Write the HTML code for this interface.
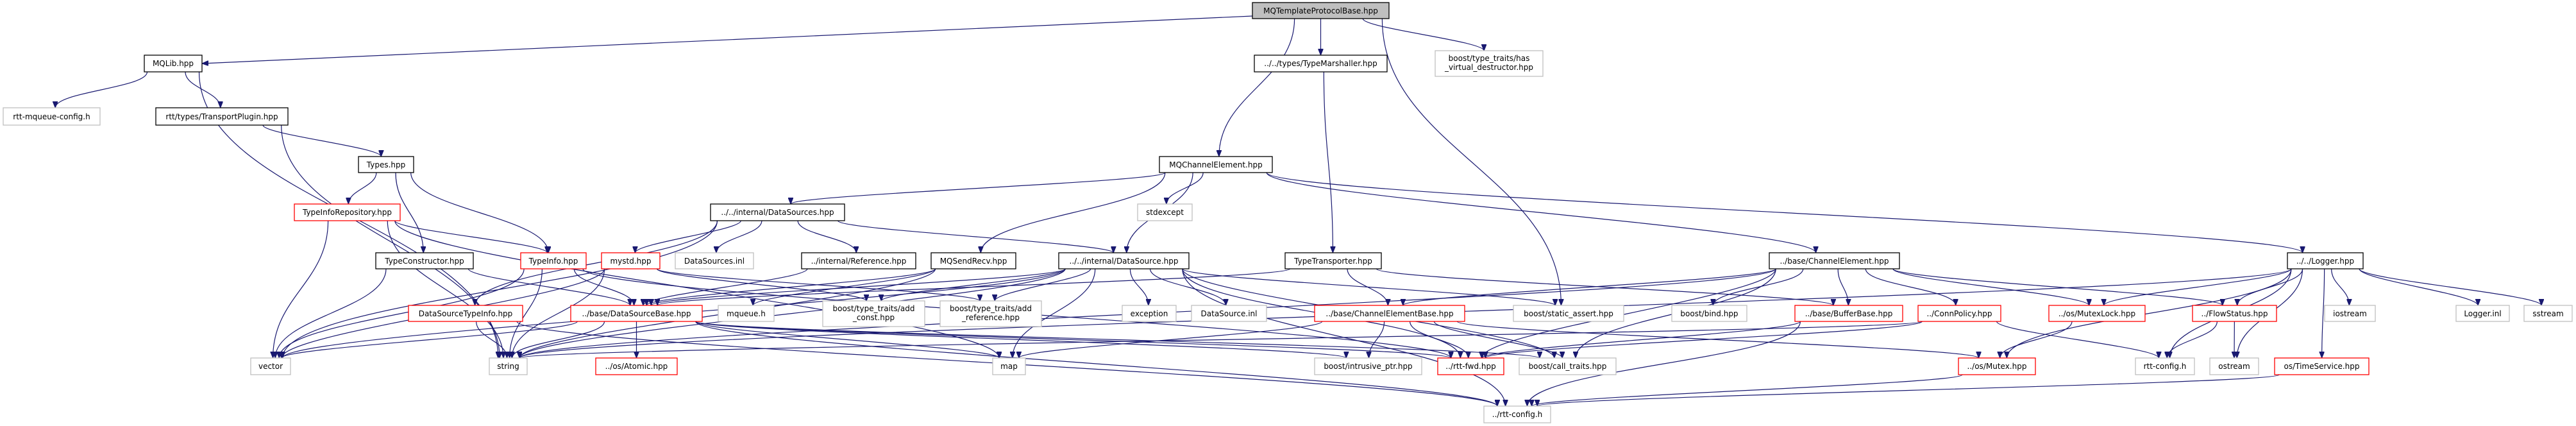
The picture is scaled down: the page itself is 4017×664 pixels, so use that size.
<!DOCTYPE html>
<html><head><meta charset="utf-8">
<style>
html,body{margin:0;padding:0;background:#fff;}
svg{display:block;}
text{font-family:"DejaVu Sans","Liberation Sans",sans-serif;font-size:12px;fill:#000;text-anchor:middle;}
.k{fill:#fff;stroke:#000;stroke-width:1.3}
.g{fill:#fff;stroke:#bfbfbf;stroke-width:1.3}
.r{fill:#fff;stroke:#ff0000;stroke-width:1.3}
.t{fill:#bfbfbf;stroke:#000;stroke-width:1.3}
.e{fill:none;stroke:#191970;stroke-width:1.2}
</style></head><body>
<svg id="s" width="4017" height="664" viewBox="0 0 4017 664" xmlns="http://www.w3.org/2000/svg">
<defs><marker id="a" markerUnits="userSpaceOnUse" markerWidth="11" markerHeight="8" refX="10" refY="4" orient="auto"><path d="M0,0 L10,4 L0,8 z" fill="#191970" stroke="#191970"/></marker></defs>
<g id="edges"></g>
<g id="nodes">
<rect id="T" class="t" x="1953" y="4" width="213" height="25"/><text x="2059.5" y="21">MQTemplateProtocolBase.hpp</text>
<rect id="MQLib" class="k" x="225" y="86" width="90" height="26"/><text x="270" y="103">MQLib.hpp</text>
<rect id="TM" class="k" x="1956" y="86" width="207" height="26"/><text x="2059.5" y="103">../../types/TypeMarshaller.hpp</text>
<rect id="HVD" class="g" x="2238" y="79" width="168" height="40"/><text x="2322" y="95">boost/type_traits/has</text><text x="2322" y="109">_virtual_destructor.hpp</text>
<rect id="RMC" class="g" x="5" y="168" width="151" height="27"/><text x="80.5" y="186">rtt-mqueue-config.h</text>
<rect id="TP" class="k" x="243" y="168" width="206" height="27"/><text x="346" y="186">rtt/types/TransportPlugin.hpp</text>
<rect id="Types" class="k" x="559" y="244" width="86" height="25"/><text x="602" y="261">Types.hpp</text>
<rect id="MQCE" class="k" x="1808" y="244" width="176" height="25"/><text x="1896" y="261">MQChannelElement.hpp</text>
<rect id="TIR" class="r" x="459" y="318" width="165" height="26"/><text x="541.5" y="335">TypeInfoRepository.hpp</text>
<rect id="DSS" class="k" x="1108" y="318" width="209" height="26"/><text x="1212.5" y="335">../../internal/DataSources.hpp</text>
<rect id="SE" class="g" x="1774" y="318" width="85" height="26"/><text x="1816.5" y="335">stdexcept</text>
<rect id="TC" class="k" x="586" y="394" width="152" height="25"/><text x="662" y="411">TypeConstructor.hpp</text>
<rect id="TI" class="r" x="812" y="394" width="102" height="25"/><text x="863" y="411">TypeInfo.hpp</text>
<rect id="MY" class="r" x="938" y="394" width="91" height="25"/><text x="983.5" y="411">mystd.hpp</text>
<rect id="DSI" class="g" x="1053" y="394" width="122" height="25"/><text x="1114" y="411">DataSources.inl</text>
<rect id="REF" class="k" x="1250" y="394" width="178" height="25"/><text x="1339" y="411">../internal/Reference.hpp</text>
<rect id="MSR" class="k" x="1452" y="394" width="132" height="25"/><text x="1518" y="411">MQSendRecv.hpp</text>
<rect id="DS" class="k" x="1651" y="394" width="203" height="25"/><text x="1752.5" y="411">../../internal/DataSource.hpp</text>
<rect id="TT" class="k" x="2004" y="394" width="150" height="25"/><text x="2079" y="411">TypeTransporter.hpp</text>
<rect id="CE" class="k" x="2759" y="394" width="203" height="25"/><text x="2860.5" y="411">../base/ChannelElement.hpp</text>
<rect id="LG" class="k" x="3567" y="394" width="118" height="25"/><text x="3626" y="411">../../Logger.hpp</text>
<rect id="DSTI" class="r" x="637" y="476" width="178" height="25"/><text x="726" y="493">DataSourceTypeInfo.hpp</text>
<rect id="DSB" class="r" x="890" y="476" width="205" height="25"/><text x="992.5" y="493">../base/DataSourceBase.hpp</text>
<rect id="MQH" class="g" x="1120" y="476" width="87" height="25"/><text x="1163.5" y="493">mqueue.h</text>
<rect id="AC" class="g" x="1283" y="469" width="159" height="40"/><text x="1362.5" y="485">boost/type_traits/add</text><text x="1362.5" y="499">_const.hpp</text>
<rect id="AR" class="g" x="1466" y="469" width="158" height="40"/><text x="1545" y="485">boost/type_traits/add</text><text x="1545" y="499">_reference.hpp</text>
<rect id="EXC" class="g" x="1750" y="476" width="84" height="25"/><text x="1792" y="493">exception</text>
<rect id="DSIN" class="g" x="1858" y="476" width="117" height="25"/><text x="1916.5" y="493">DataSource.inl</text>
<rect id="CEB" class="r" x="2050" y="476" width="234" height="25"/><text x="2167" y="493">../base/ChannelElementBase.hpp</text>
<rect id="SA" class="g" x="2360" y="476" width="172" height="25"/><text x="2446" y="493">boost/static_assert.hpp</text>
<rect id="BIND" class="g" x="2607" y="476" width="117" height="25"/><text x="2665.5" y="493">boost/bind.hpp</text>
<rect id="BB" class="r" x="2799" y="476" width="168" height="25"/><text x="2883" y="493">../base/BufferBase.hpp</text>
<rect id="CP" class="r" x="2991" y="476" width="129" height="25"/><text x="3055.5" y="493">../ConnPolicy.hpp</text>
<rect id="ML" class="r" x="3195" y="476" width="150" height="25"/><text x="3270" y="493">../os/MutexLock.hpp</text>
<rect id="FS" class="r" x="3419" y="476" width="131" height="25"/><text x="3484.5" y="493">../FlowStatus.hpp</text>
<rect id="IOS" class="g" x="3625" y="476" width="79" height="25"/><text x="3664.5" y="493">iostream</text>
<rect id="LI" class="g" x="3830" y="476" width="83" height="25"/><text x="3871.5" y="493">Logger.inl</text>
<rect id="SS" class="g" x="3936" y="476" width="75" height="25"/><text x="3973.5" y="493">sstream</text>
<rect id="VEC" class="g" x="391" y="558" width="62" height="26"/><text x="422" y="575">vector</text>
<rect id="STR" class="g" x="763" y="558" width="59" height="26"/><text x="792.5" y="575">string</text>
<rect id="AT" class="r" x="929" y="558" width="127" height="26"/><text x="992.5" y="575">../os/Atomic.hpp</text>
<rect id="MAP" class="g" x="1548" y="558" width="51" height="26"/><text x="1573.5" y="575">map</text>
<rect id="IP" class="g" x="2050" y="558" width="167" height="26"/><text x="2133.5" y="575">boost/intrusive_ptr.hpp</text>
<rect id="FWD" class="r" x="2242" y="558" width="103" height="26"/><text x="2293.5" y="575">../rtt-fwd.hpp</text>
<rect id="CT" class="g" x="2369" y="558" width="151" height="26"/><text x="2444.5" y="575">boost/call_traits.hpp</text>
<rect id="MX" class="r" x="3054" y="558" width="120" height="26"/><text x="3114" y="575">../os/Mutex.hpp</text>
<rect id="RC" class="g" x="3330" y="558" width="92" height="26"/><text x="3376" y="575">rtt-config.h</text>
<rect id="OS" class="g" x="3446" y="558" width="76" height="26"/><text x="3484" y="575">ostream</text>
<rect id="TS" class="r" x="3547" y="558" width="147" height="26"/><text x="3620.5" y="575">os/TimeService.hpp</text>
<rect id="RC2" class="g" x="2314" y="633" width="104" height="26"/><text x="2366" y="650">../rtt-config.h</text>
</g>
</svg>
<script>
var E=[["T","MQLib"],["T","TM"],["T","MQCE"],["T","HVD"],["T","SA"],
["MQLib","RMC"],["MQLib","TP"],["MQLib","STR"],["TP","Types"],["TP","STR"],
["Types","TIR"],["Types","TC"],["Types","TI"],
["TIR","VEC"],["TIR","STR"],["TIR","TI"],["TIR","MAP"],
["TC","VEC"],["TC","DSB"],
["TI","DSB"],["TI","VEC"],["TI","STR"],["TI","FWD"],
["DSTI","STR"],["DSTI","RC2"],
["MY","AC"],["MY","AR"],["MY","VEC"],["MY","STR"],
["DSS","MY"],["DSS","DSI"],["DSS","REF"],["DSS","DS"],["DSS","DSTI"],["DSS","VEC"],
["REF","DSB"],["MSR","DSB"],["MSR","MQH"],["MSR","STR"],
["DS","DSB"],["DS","AC"],["DS","AR"],["DS","EXC"],["DS","DSIN"],["DS","MAP"],["DS","STR"],["DS","VEC"],["DS","CT"],["DS","SA"],["DS","RC2"],["DS","FWD"],
["MQCE","DSS"],["MQCE","MSR"],["MQCE","SE"],["MQCE","DS"],["MQCE","LG"],["MQCE","CE"],
["TM","TT"],["TT","CEB"],["TT","DSB"],["TT","BB"],
["CE","CEB"],["CE","BIND"],["CE","BB"],["CE","CP"],["CE","ML"],["CE","FS"],["CE","FWD"],["CE","CT"],["CE","STR"],
["CEB","IP"],["CEB","FWD"],["CEB","CT"],["CEB","MAP"],["CEB","MX"],
["DSB","STR"],["DSB","AT"],["DSB","VEC"],["DSB","IP"],["DSB","FWD"],["DSB","MAP"],["DSB","CT"],["DSB","RC2"],
["BB","RC2"],["BB","FWD"],["CP","STR"],["CP","FWD"],["CP","RC"],
["ML","MX"],["FS","RC"],["FS","OS"],
["LG","ML"],["LG","FS"],["LG","IOS"],["LG","LI"],["LG","SS"],["LG","TS"],["LG","OS"],["LG","RC"],["LG","MX"],["LG","STR"],
["MX","RC2"],["TS","RC2"]];
function b(id){var r=document.getElementById(id);return{x:+r.getAttribute("x"),y:+r.getAttribute("y"),w:+r.getAttribute("width"),h:+r.getAttribute("height")};}
var g=document.getElementById("edges"),ns="http://www.w3.org/2000/svg";
E.forEach(function(e){var s=b(e[0]),t=b(e[1]);var sc=s.x+s.w/2,tc=t.x+t.w/2,dx=tc-sc;var sy=s.y+s.h,ty=t.y,dy=ty-sy,d;
if(e[0]=="T"&&e[1]=="MQLib"){d="M"+s.x+","+(s.y+s.h-4)+" L"+(t.x+t.w)+","+(t.y+t.h/2);}
else{var lim=s.w*0.45,o=Math.max(-lim,Math.min(lim,dx*0.25));var sx=sc+o;var tx=tc-Math.max(-t.w*0.3,Math.min(t.w*0.3,dx*0.03));
var k=Math.abs(dx)>4*dy?0.3:0.45;
d="M"+sx+","+sy+" C"+sx+","+(sy+dy*k)+" "+tx+","+(ty-dy*k)+" "+tx+","+ty;}
var p=document.createElementNS(ns,"path");p.setAttribute("d",d);p.setAttribute("class","e");p.setAttribute("marker-end","url(#a)");g.appendChild(p);});
</script>
</body></html>
